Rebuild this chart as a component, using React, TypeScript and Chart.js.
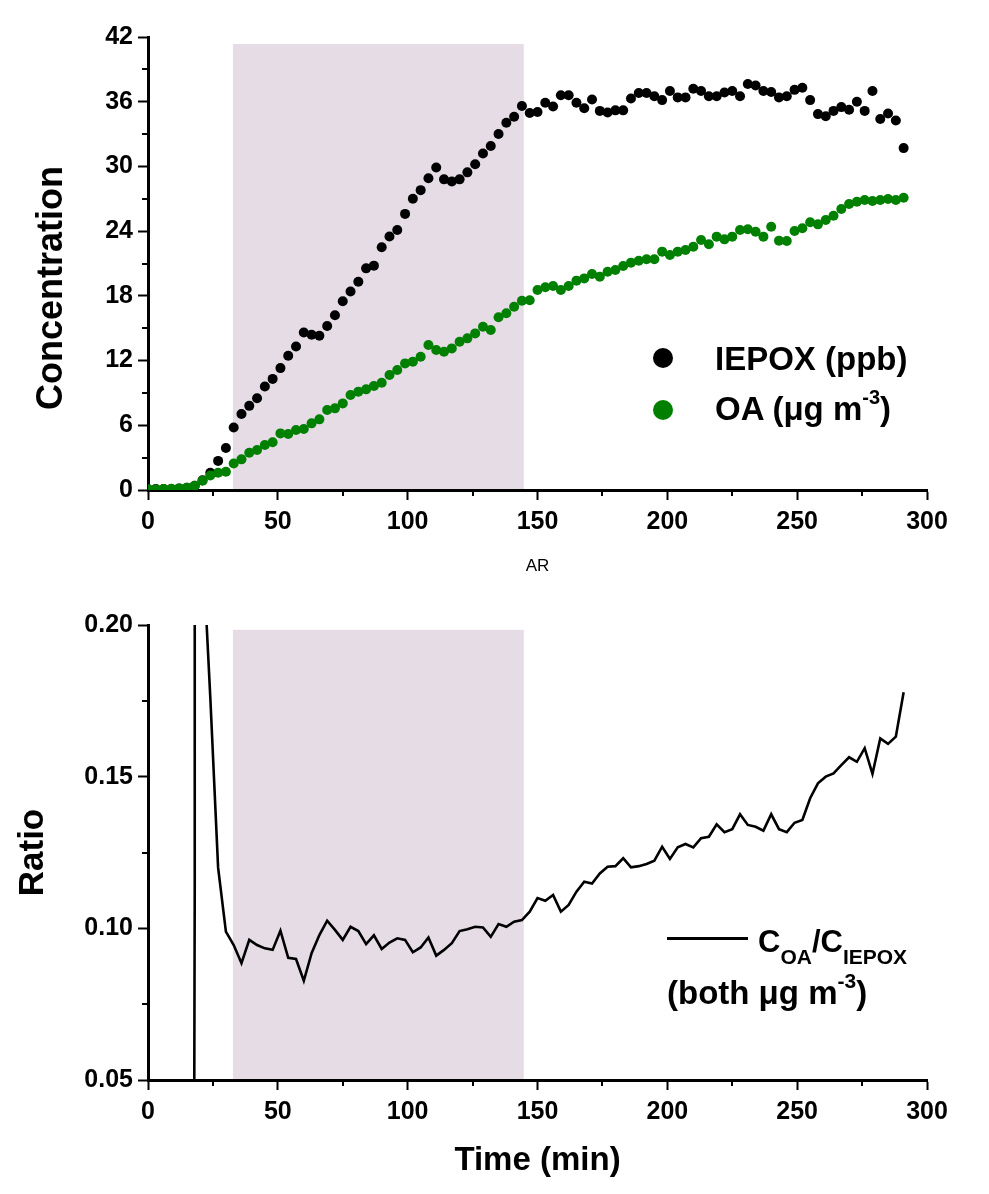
import React, { useEffect, useRef } from "react";
import { Chart, registerables } from "chart.js";

Chart.register(...registerables);

// ---------- data ----------
const time = [0, 3, 6, 9, 12, 15, 18, 21, 24, 27, 30, 33, 36, 39, 42, 45, 48, 51, 54, 57, 60, 63, 66, 69, 72, 75, 78, 81, 84, 87, 90, 93, 96, 99, 102, 105, 108, 111, 114, 117, 120, 123, 126, 129, 132, 135, 138, 141, 144, 147, 150, 153, 156, 159, 162, 165, 168, 171, 174, 177, 180, 183, 186, 189, 192, 195, 198, 201, 204, 207, 210, 213, 216, 219, 222, 225, 228, 231, 234, 237, 240, 243, 246, 249, 252, 255, 258, 261, 264, 267, 270, 273, 276, 279, 282, 285, 288, 291];

const iepox = [
  0.1, 0.1, 0.1, 0.1, 0.15, 0.2, 0.4, 0.9, 1.6, 2.7,
  3.9, 5.8, 7.05, 7.8, 8.5, 9.6, 10.3, 11.3, 12.45, 13.3,
  14.6, 14.4, 14.3, 15.2, 16.2, 17.5, 18.4, 19.3, 20.55, 20.8,
  22.5, 23.5, 24.1, 25.6, 27.0, 27.8, 28.9, 29.9, 28.8, 28.6,
  28.8, 29.45, 30.2, 31.2, 31.9, 33.0, 34.05, 34.6, 35.6, 34.95,
  35.05, 35.9, 35.55, 36.6, 36.6, 35.9, 35.4, 36.2, 35.15, 35.0,
  35.2, 35.2, 36.3, 36.8, 36.8, 36.5, 36.15, 37.0, 36.4, 36.4,
  37.2, 37.0, 36.5, 36.5, 36.85, 37.0, 36.5, 37.65, 37.5, 37.0,
  36.9, 36.4, 36.5, 37.1, 37.3, 36.15, 34.85, 34.65, 35.15, 35.5,
  35.25, 36.0, 35.15, 37.0, 34.4, 34.9, 34.25, 31.7,
];

const oa = [
  0.06, 0.06, 0.1, 0.12, 0.15, 0.22, 0.4, 0.86, 1.35, 1.6,
  1.7, 2.45, 2.84, 3.46, 3.71, 4.17, 4.42, 5.25, 5.19, 5.56,
  5.66, 6.18, 6.55, 7.42, 7.57, 8.03, 8.81, 9.12, 9.33, 9.64,
  9.95, 10.66, 11.13, 11.74, 11.9, 12.36, 13.44, 12.98, 12.82, 13.13,
  13.75, 14.06, 14.52, 15.14, 14.83, 16.01, 16.38, 16.99, 17.55, 17.6,
  18.54, 18.79, 18.91, 18.54, 18.91, 19.41, 19.62, 20.03, 19.78, 20.24,
  20.4, 20.77, 21.08, 21.26, 21.39, 21.39, 22.1, 21.79, 22.1, 22.25,
  22.56, 23.18, 22.78, 23.49, 23.24, 23.49, 24.1, 24.17, 23.95, 23.49,
  24.41, 23.12, 23.09, 24.01, 24.26, 24.82, 24.63, 25.03, 25.43, 26.05,
  26.52, 26.73, 26.89, 26.79, 26.89, 26.98, 26.89, 27.1,
];

const ratioTime = [15, 18, 18, 21, 24, 27, 30, 33, 36, 39, 42, 45, 48, 51, 54, 57, 60, 63, 66, 69, 72, 75, 78, 81, 84, 87, 90, 93, 96, 99, 102, 105, 108, 111, 114, 117, 120, 123, 126, 129, 132, 135, 138, 141, 144, 147, 150, 153, 156, 159, 162, 165, 168, 171, 174, 177, 180, 183, 186, 189, 192, 195, 198, 201, 204, 207, 210, 213, 216, 219, 222, 225, 228, 231, 234, 237, 240, 243, 246, 249, 252, 255, 258, 261, 264, 267, 270, 273, 276, 279, 282, 285, 288, 291];

const ratio = [
  -1, 0.114, 2.5, 0.227, 0.176, 0.12,
  0.0989, 0.0945, 0.0885, 0.0962, 0.0945, 0.0934, 0.0929, 0.0992, 0.0903, 0.0899,
  0.0827, 0.0918, 0.0978, 0.1025, 0.0995, 0.0962, 0.1005, 0.0991, 0.0948, 0.0977,
  0.0932, 0.0953, 0.0967, 0.0962, 0.0921, 0.0937, 0.097, 0.091, 0.0929, 0.0951,
  0.0991, 0.0997, 0.1005, 0.1003, 0.0972, 0.1014, 0.1005, 0.1022, 0.1027, 0.1055,
  0.11, 0.1091, 0.111, 0.1055, 0.1077, 0.1121, 0.1154, 0.1148, 0.1181, 0.1203,
  0.1205, 0.1231, 0.1201, 0.1205, 0.1212, 0.1223, 0.1269, 0.1229, 0.1267, 0.1278,
  0.1267, 0.1297, 0.1302, 0.1343, 0.1317, 0.1327, 0.1376, 0.1341, 0.1335, 0.1322,
  0.1376, 0.1327, 0.1317, 0.1348, 0.1357, 0.1429, 0.1478, 0.15, 0.1511, 0.1538,
  0.1564, 0.1549, 0.1594, 0.1509, 0.1626, 0.1608, 0.1632, 0.1778,
];

const minorTime = [25, 75, 125, 175, 225, 275];
const minorConc = [3, 9, 15, 21, 27, 33, 39];
const minorRatio = [0.075, 0.125, 0.175];

const shadeFrom = 32.7;
const shadeTo = 144.7;
const shadeTopConc = 41.35;
const shadeTopRatio = 0.1984;

// ---------- styling ----------
const FONT = "'Liberation Sans', Arial, Helvetica, sans-serif";
const SHADE = "#E5DCE5";

function makeShade(from: number, to: number, top: number) {
  return {
    id: "shade",
    beforeDraw(chart: any) {
      const { ctx, scales } = chart;
      const xs = scales.x;
      const ys = scales.y;
      const l = xs.getPixelForValue(from);
      const r = xs.getPixelForValue(to);
      const t = ys.getPixelForValue(top);
      const b = ys.getPixelForValue(ys.min);
      ctx.save();
      ctx.fillStyle = SHADE;
      ctx.fillRect(l, t, r - l, b - t);
      ctx.restore();
    },
  };
}

function makeMinor(xVals: number[], yVals: number[], len: number) {
  return {
    id: "minorTicks",
    afterDraw(chart: any) {
      const { ctx, scales, chartArea } = chart;
      ctx.save();
      ctx.strokeStyle = "#000";
      ctx.lineWidth = 2;
      for (const v of xVals) {
        const px = Math.round(scales.x.getPixelForValue(v));
        ctx.beginPath();
        ctx.moveTo(px, chartArea.bottom);
        ctx.lineTo(px, chartArea.bottom + len);
        ctx.stroke();
      }
      for (const v of yVals) {
        const py = Math.round(scales.y.getPixelForValue(v));
        ctx.beginPath();
        ctx.moveTo(chartArea.left, py);
        ctx.lineTo(chartArea.left - len, py);
        ctx.stroke();
      }
      ctx.restore();
    },
  };
}

function axisBase(pad: number) {
  return {
    type: "linear" as const,
    border: { display: true, color: "#000", width: 3 },
    grid: {
      display: true,
      drawOnChartArea: false,
      drawTicks: true,
      tickLength: 10,
      tickWidth: 2,
      tickColor: "#000",
    },
    ticks: {
      color: "#000",
      font: { family: FONT, size: 25, weight: "bold" as const },
      padding: pad,
      autoSkip: false,
      maxRotation: 0,
    },
  };
}

function ConcentrationChart() {
  const ref = useRef<HTMLCanvasElement>(null);
  useEffect(() => {
    const xb = axisBase(7);
    const yb = axisBase(5);
    const chart = new Chart(ref.current as HTMLCanvasElement, {
      type: "scatter",
      data: {
        datasets: [
          {
            label: "OA (μg m-3)",
            data: time.map((t, i) => ({ x: t, y: oa[i] })),
            backgroundColor: "#008000",
            borderWidth: 0,
            pointRadius: 5,
            pointHoverRadius: 5,
          },
          {
            label: "IEPOX (ppb)",
            data: time.map((t, i) => ({ x: t, y: iepox[i] })),
            backgroundColor: "#000000",
            borderWidth: 0,
            pointRadius: 5,
            pointHoverRadius: 5,
          },
        ],
      },
      options: {
        responsive: false,
        animation: false,
        events: [],
        layout: { padding: { left: 0, top: 37, right: 62, bottom: 0 } },
        plugins: { legend: { display: false }, tooltip: { enabled: false } },
        scales: {
          x: {
            ...xb,
            min: 0,
            max: 300,
            ticks: { ...xb.ticks, stepSize: 50 },
            title: {
              display: true,
              text: "AR",
              color: "#000",
              font: { family: FONT, size: 17, weight: "normal" },
              padding: { top: 0, bottom: 18 },
            },
            afterFit: (s: any) => {
              s.height = 105;
            },
          },
          y: {
            ...yb,
            min: 0,
            max: 42,
            ticks: { ...yb.ticks, stepSize: 6 },
            afterFit: (s: any) => {
              s.width = 148;
            },
          },
        },
      } as any,
      plugins: [makeShade(shadeFrom, shadeTo, shadeTopConc), makeMinor(minorTime, minorConc, 6)],
    });
    return () => chart.destroy();
  }, []);
  return (
    <canvas
      ref={ref}
      width={989}
      height={595}
      style={{ position: "absolute", left: 0, top: 0, width: 989, height: 595 }}
    />
  );
}

function RatioChart() {
  const ref = useRef<HTMLCanvasElement>(null);
  useEffect(() => {
    const xb = axisBase(7);
    const yb = axisBase(5);
    const chart = new Chart(ref.current as HTMLCanvasElement, {
      type: "line",
      data: {
        datasets: [
          {
            label: "COA/CIEPOX",
            data: ratioTime.map((t, i) => ({ x: t, y: ratio[i] })),
            borderColor: "#000",
            borderWidth: 2.6,
            pointRadius: 0,
            pointHoverRadius: 0,
            tension: 0,
            fill: false,
          },
        ],
      },
      options: {
        responsive: false,
        animation: false,
        events: [],
        layout: { padding: { left: 0, top: 30, right: 62, bottom: 0 } },
        plugins: { legend: { display: false }, tooltip: { enabled: false } },
        scales: {
          x: {
            ...xb,
            min: 0,
            max: 300,
            ticks: { ...xb.ticks, stepSize: 50 },
            title: {
              display: true,
              text: "Time (min)",
              color: "#000",
              font: { family: FONT, size: 33, weight: "bold" },
              padding: { top: 0, bottom: 13 },
            },
            afterFit: (s: any) => {
              s.height = 114;
            },
          },
          y: {
            ...yb,
            min: 0.05,
            max: 0.2,
            ticks: {
              ...yb.ticks,
              stepSize: 0.05,
              callback: (v: any) => Number(v).toFixed(2),
            },
            title: {
              display: true,
              text: "Ratio",
              color: "#000",
              font: { family: FONT, size: 35, weight: "bold" },
              padding: { top: 12, bottom: 0 },
            },
            afterFit: (s: any) => {
              s.width = 148;
            },
          },
        },
      } as any,
      plugins: [makeShade(shadeFrom, shadeTo, shadeTopRatio), makeMinor(minorTime, minorRatio, 6)],
    });
    return () => chart.destroy();
  }, []);
  return (
    <canvas
      ref={ref}
      width={989}
      height={599}
      style={{ position: "absolute", left: 0, top: 595, width: 989, height: 599 }}
    />
  );
}

const textBase: React.CSSProperties = {
  position: "absolute",
  fontFamily: FONT,
  fontWeight: "bold",
  color: "#000",
  whiteSpace: "nowrap",
};

export default function App() {
  return (
    <div style={{ position: "absolute", left: 0, top: 0, width: 989, height: 1194, background: "#fff" }}>
      <ConcentrationChart />
      <RatioChart />

      {/* y title of top panel */}
      <div
        style={{
          ...textBase,
          left: 50,
          top: 288,
          fontSize: 36,
          lineHeight: "36px",
          transform: "translate(-50%, -50%) rotate(-90deg)",
        }}
      >
        Concentration
      </div>

      {/* top legend */}
      <div style={{ position: "absolute", left: 653, top: 348, width: 20, height: 20, borderRadius: "50%", background: "#000" }} />
      <div style={{ position: "absolute", left: 653, top: 400, width: 20, height: 20, borderRadius: "50%", background: "#008000" }} />
      <div style={{ ...textBase, left: 715, top: 342, fontSize: 33, lineHeight: "33px" }}>IEPOX (ppb)</div>
      <div style={{ ...textBase, left: 715, top: 392, fontSize: 33, lineHeight: "33px" }}>
        OA (μg m<span style={{ fontSize: 20, position: "relative", top: -16 }}>-3</span>)
      </div>

      {/* bottom legend */}
      <div style={{ position: "absolute", left: 667, top: 937, width: 81, height: 3, background: "#000" }} />
      <div style={{ ...textBase, left: 758, top: 926, fontSize: 31, lineHeight: "31px" }}>
        C<span style={{ fontSize: 21, position: "relative", top: 12 }}>OA</span>/C
        <span style={{ fontSize: 21, position: "relative", top: 12 }}>IEPOX</span>
      </div>
      <div style={{ ...textBase, left: 667, top: 976, fontSize: 33, lineHeight: "33px" }}>
        (both μg m<span style={{ fontSize: 21, position: "relative", top: -16 }}>-3</span>)
      </div>
    </div>
  );
}
